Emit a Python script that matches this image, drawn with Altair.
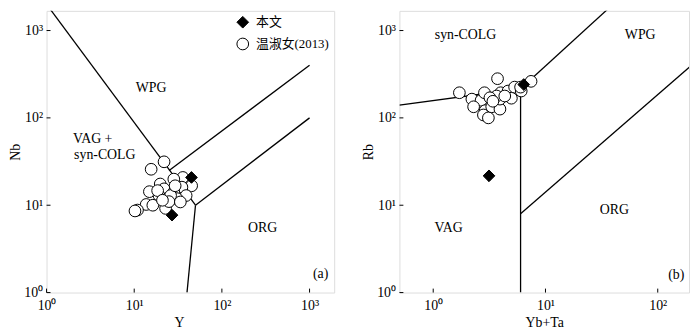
import altair as alt
import pandas as pd

SERIES = ["本文", "温淑女(2013)"]
SERIF = "Liberation Serif, Noto Sans CJK SC"

# ---------- panel (a): Nb vs Y ----------
a_circ_x = [21.9, 15.6, 35.9, 28.3, 19.8, 45.2, 35.0, 21.9, 14.9, 28.3, 19.2, 39.1, 23.9,
            30.8, 26.0, 13.7, 16.3, 10.9, 10.2, 22.8, 24.9, 33.6, 18.5, 21.0, 29.3]
a_circ_y = [31.4, 25.8, 20.8, 19.9, 17.5, 16.7, 16.1, 15.4, 14.3, 14.1, 12.9, 12.9, 11.9,
            11.9, 12.9, 10.2, 10.0, 8.8, 8.6, 9.2, 11.0, 10.9, 14.7, 11.4, 16.7]
a_dia_x = [45, 27]
a_dia_y = [20.8, 7.7]

a_seg = [1, 1, 2, 2, 3, 3, 4, 4]
a_line_x = [1, 50, 25, 1000, 50, 1000, 50, 40]
a_line_y = [2000, 10, 25, 400, 10, 100, 10, 1]

a_lab_text = ["WPG", "VAG +", "syn-COLG", "ORG", "(a)"]
a_lab_x = [15.6, 3.36, 4.62, 292, 1336]
a_lab_y = [219, 57.3, 37.9, 5.48, 1.63]

# ---------- panel (b): Rb vs Yb+Ta ----------
b_circ_x = [1.71, 2.21, 2.67, 2.86, 3.74, 2.29, 2.9, 2.8, 3.1, 3.32, 3.93, 3.93, 3.99,
            4.64, 4.97, 5.31, 6.08, 7.44, 6.0, 3.67, 4.34, 3.2, 3.4]
b_circ_y = [194, 164, 159, 194, 281, 134, 121, 108, 100, 134, 126, 164, 194,
            203, 168, 225, 203, 262, 225, 178, 178, 170, 155]
b_dia_x = [6.4, 3.14]
b_dia_y = [241, 21.7]

b_seg = [1, 1, 2, 2, 3, 3, 4, 4]
b_line_x = [0.5, 6, 6, 40, 6, 6, 6, 200]
b_line_y = [140, 215, 215, 2000, 1, 215, 8, 400]

b_lab_text = ["syn-COLG", "WPG", "ORG", "VAG", "(b)"]
b_lab_x = [1.94, 69.8, 41.1, 1.37, 146]
b_lab_y = [881, 881, 8.73, 5.48, 1.59]

Y_DOMAIN = [1, 1680]
A_X_DOMAIN = [1, 1910]
B_X_DOMAIN = [0.5, 190]

A_W, B_W, H = 291, 293, 285

LABEL_EXPR = ("datum.value >= 1000 ? '10³' : datum.value >= 100 ? '10²' : "
              "datum.value >= 10 ? '10¹' : datum.value >= 1 ? '10⁰' : ''")


def axis(title, values, **kw):
    return alt.Axis(title=title, values=values, labelExpr=LABEL_EXPR, ticks=False, tickSize=0,
                    domain=False, grid=False, labelFont=SERIF, labelFontSize=14,
                    labelColor="black", titleFont=SERIF, titleFontSize=14,
                    titleFontWeight="normal", titleColor="black", labelFlush=False,
                    labelOverlap=False, **kw)


def panel(circ_x, circ_y, dia_x, dia_y, seg, lx, ly, ltext, lxs, lys,
          xdom, xticks, xtitle, ytitle, width, show_legend, xtitle_x=None):
    xs = alt.Scale(type="log", domain=xdom, nice=False, zero=False)
    ys = alt.Scale(type="log", domain=Y_DOMAIN, nice=False, zero=False)

    pts = pd.DataFrame({
        "x": list(circ_x) + list(dia_x),
        "y": list(circ_y) + list(dia_y),
        "series": [SERIES[1]] * len(circ_x) + [SERIES[0]] * len(dia_x),
    })
    lines = pd.DataFrame({"x": lx, "y": ly, "seg": seg})
    labs = pd.DataFrame({"x": lxs, "y": lys, "text": ltext})
    xt = pd.DataFrame({"v": xticks})
    yt = pd.DataFrame({"v": [1, 10, 100, 1000]})

    xkw = dict(labelPadding=6, titlePadding=3)
    if xtitle_x is not None:
        xkw["titleX"] = xtitle_x
    base_x = alt.X("x:Q", scale=xs, axis=axis(xtitle, xticks, **xkw))
    base_y = alt.Y("y:Q", scale=ys, axis=axis(ytitle, [1, 10, 100, 1000],
                                               labelPadding=4, titlePadding=1))

    line_layer = alt.Chart(lines).mark_line(color="black", strokeWidth=1.3, clip=True).encode(
        x=base_x, y=base_y, detail="seg:N")

    if show_legend:
        leg = alt.Legend(title=None, orient="top-right", offset=5, padding=0,
                         labelFont=SERIF, labelFontSize=13, labelColor="black",
                         symbolSize=140, symbolStrokeColor="black", symbolStrokeWidth=1,
                         rowPadding=5, labelOffset=7)
    else:
        leg = None
    pt_layer = alt.Chart(pts).mark_point(filled=True, stroke="black", strokeWidth=1,
                                         size=140, opacity=1, fillOpacity=1).encode(
        x=alt.X("x:Q", scale=xs),
        y=alt.Y("y:Q", scale=ys),
        shape=alt.Shape("series:N", scale=alt.Scale(domain=SERIES, range=["diamond", "circle"]),
                        legend=leg),
        fill=alt.Fill("series:N", scale=alt.Scale(domain=SERIES, range=["black", "white"]),
                      legend=leg),
        stroke=alt.Stroke("series:N", scale=alt.Scale(domain=SERIES, range=["black", "black"]),
                          legend=leg),
    )

    txt_layer = alt.Chart(labs).mark_text(font=SERIF, fontSize=14, color="black",
                                          align="center", baseline="middle").encode(
        x=alt.X("x:Q", scale=xs), y=alt.Y("y:Q", scale=ys), text="text:N")

    xtick_layer = alt.Chart(xt).mark_rule(color="black", strokeWidth=1).encode(
        x=alt.X("v:Q", scale=xs), y=alt.value(H), y2=alt.value(H - 4))
    ytick_layer = alt.Chart(yt).mark_rule(color="black", strokeWidth=1).encode(
        y=alt.Y("v:Q", scale=ys), x=alt.value(0), x2=alt.value(4))

    return alt.layer(line_layer, xtick_layer, ytick_layer, txt_layer, pt_layer).properties(
        width=width, height=H)


pa = panel(a_circ_x, a_circ_y, a_dia_x, a_dia_y, a_seg, a_line_x, a_line_y,
           a_lab_text, a_lab_x, a_lab_y, A_X_DOMAIN, [1, 10, 100, 1000], "Y", "Nb",
           A_W, True, xtitle_x=134)
pb = panel(b_circ_x, b_circ_y, b_dia_x, b_dia_y, b_seg, b_line_x, b_line_y,
           b_lab_text, b_lab_x, b_lab_y, B_X_DOMAIN, [1, 10, 100], "Yb+Ta", "Rb",
           B_W, False)

chart = alt.hconcat(pa, pb, spacing=66, bounds="flush").resolve_scale(
    shape="independent", fill="independent", stroke="independent",
    x="independent", y="independent"
).properties(
    padding={"left": 0, "top": 0, "right": 2, "bottom": 0}
).configure_view(stroke="black", strokeWidth=1.2).configure(background="white")

chart.save("out.html", embed_options={"renderer": "svg", "actions": False})
